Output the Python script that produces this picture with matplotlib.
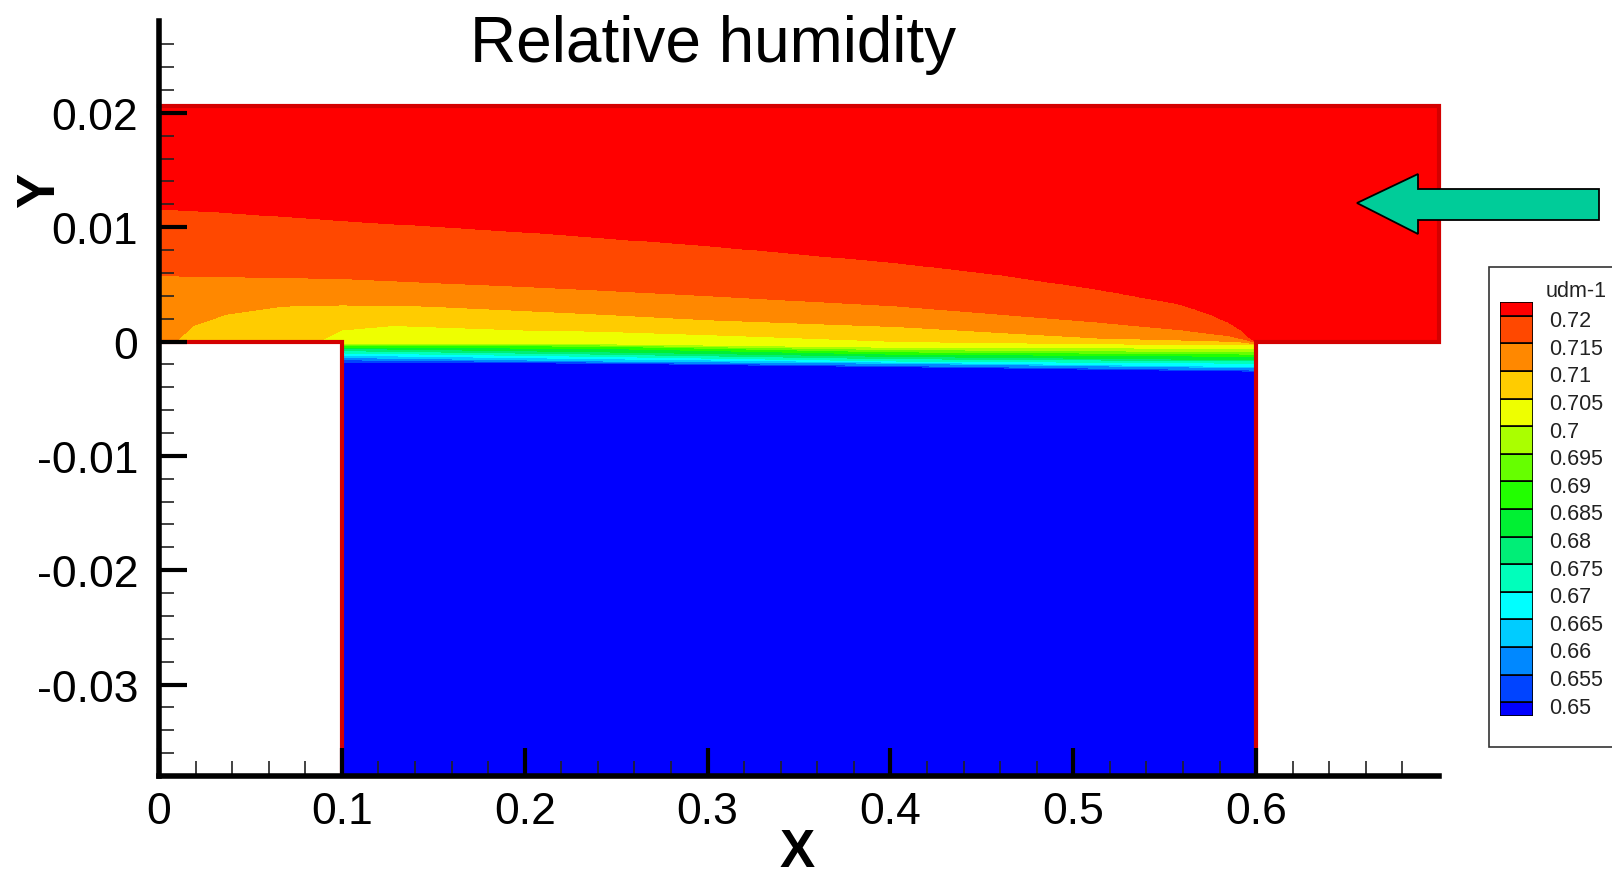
import numpy as np
import matplotlib
matplotlib.use("Agg")
import matplotlib.pyplot as plt
from matplotlib.patches import Polygon, Rectangle

plt.rcParams['font.family'] = ['Liberation Sans', 'DejaVu Sans']

W, H = 1612, 879

# contour levels of udm-1 and the band colours (below 0.65 ... above 0.72)
levels = [0.65, 0.655, 0.66, 0.665, 0.67, 0.675, 0.68, 0.685, 0.69, 0.695,
          0.70, 0.705, 0.71, 0.715, 0.72]
band_colors = ['#0000ff', '#0044ff', '#0088ff', '#00ccff', '#00ffff', '#00ffbb',
               '#00ee77', '#00f033', '#22ff00', '#66ff00', '#aaff00', '#eeff00',
               '#ffcc00', '#ff8800', '#ff4800', '#ff0000']
legend_labels = ['0.65', '0.655', '0.66', '0.665', '0.67', '0.675', '0.68', '0.685',
                 '0.69', '0.695', '0.7', '0.705', '0.71', '0.715', '0.72']

# traced contour lines (x, y)
x_072 = [0, 0.033, 0.1, 0.2, 0.3, 0.404, 0.458, 0.513, 0.558, 0.575, 0.585, 0.592, 0.596, 0.6]
y_072 = [0.0116, 0.01135, 0.0106, 0.0096, 0.0084, 0.0069, 0.0059, 0.0046, 0.0033, 0.0024,
         0.0017, 0.0010, 0.0004, 0.0]
x_0715 = [0, 0.1, 0.2, 0.24, 0.3, 0.404, 0.513, 0.56, 0.585, 0.596, 0.6]
y_0715 = [0.00576, 0.0055, 0.0048, 0.0045, 0.0040, 0.0031, 0.0017, 0.0010, 0.0005, 0.0001, -0.0001]
x_071 = [0, 0.008, 0.0114, 0.0187, 0.037, 0.068, 0.1, 0.146, 0.2, 0.24, 0.3, 0.404, 0.513, 0.567, 0.59, 0.6]
y_071 = [-0.001, -0.0002, 0.0003, 0.0014, 0.0024, 0.0031, 0.0032, 0.0031, 0.0027, 0.0024,
         0.0019, 0.0013, 0.0003, 0.0001, 0.0, -0.0002]
x_0705 = [0, 0.08, 0.0915, 0.1, 0.128, 0.2, 0.24, 0.3, 0.404, 0.513, 0.6]
y_0705 = [-0.002, -0.0005, 0.0003, 0.001, 0.0014, 0.001, 0.0009, 0.0006, 0.0, -0.0002, -0.0003]

# thin layer at the top of the cavity
x_cav = [0.1, 0.24, 0.4, 0.6]
y_070 = [-0.0002, -0.0002, -0.0005, -0.0006]
y_0695 = [-0.0003, -0.0003, -0.0007, -0.0009]
y_069 = [-0.00035, -0.0004, -0.0009, -0.0011]
y_0685 = [-0.0005, -0.0006, -0.0011, -0.0013]
y_068 = [-0.0006, -0.0009, -0.0013, -0.0016]
y_0675 = [-0.0008, -0.0011, -0.0015, -0.0017]
y_067 = [-0.001, -0.0013, -0.0017, -0.0019]
y_0665 = [-0.0012, -0.0015, -0.0018, -0.0022]
y_066 = [-0.0014, -0.0017, -0.0019, -0.0023]
y_0655 = [-0.0016, -0.0018, -0.0021, -0.0025]
y_065 = [-0.0018, -0.0019, -0.0022, -0.0026]

# geometry
x_end, y_top, y_bot = 0.7, 0.0206, -0.038
cav_left, cav_right = 0.1, 0.6

traces = [(x_cav, y_065), (x_cav, y_0655), (x_cav, y_066), (x_cav, y_0665),
          (x_cav, y_067), (x_cav, y_0675), (x_cav, y_068), (x_cav, y_0685),
          (x_cav, y_069), (x_cav, y_0695), (x_cav, y_070),
          (x_0705, y_0705), (x_071, y_071), (x_0715, y_0715), (x_072, y_072)]


def field(xg, yg):
    p = np.array([np.interp(xg, xs, ys) for xs, ys in traces])
    for k in range(len(levels) - 2, -1, -1):
        p[k] = np.minimum(p[k], p[k + 1] - 1e-7)
    z = np.empty((len(yg), len(xg)))
    for j in range(len(xg)):
        z[:, j] = np.interp(yg, p[:, j], levels, left=0.60, right=0.80)
    return z


fig = plt.figure(figsize=(W / 100, H / 100), dpi=100)
ax = fig.add_axes([159 / W, (H - 777) / H, 1280 / W, 754.6 / H])

bounds = [0.60] + levels + [0.80]

xc = np.linspace(cav_left, cav_right, 1001)
yc = np.concatenate([np.linspace(y_bot, -0.005, 20), np.linspace(-0.005, 0.0, 500)[1:]])
ax.contourf(xc, yc, field(xc, yc), levels=bounds, colors=band_colors, antialiased=False)

xg = np.linspace(0, x_end, 1401)
yg = np.linspace(0, y_top, 500)
ax.contourf(xg, yg, field(xg, yg), levels=bounds, colors=band_colors, antialiased=False)

# domain outline
ox = [0, x_end, x_end, cav_right, cav_right, cav_left, cav_left, 0]
oy = [y_top, y_top, 0, 0, y_bot, y_bot, 0, 0]
ax.plot(ox, oy, color='#d40000', lw=3, solid_joinstyle='miter', zorder=2, clip_on=False)

ax.set_xlim(0, x_end)
ax.set_ylim(y_bot, 0.028)
ax.set_axisbelow(False)
for s in ['top', 'right']:
    ax.spines[s].set_visible(False)
for s in ['left', 'bottom']:
    ax.spines[s].set_linewidth(4)
    ax.spines[s].set_zorder(5)

ax.set_xticks([0, 0.1, 0.2, 0.3, 0.4, 0.5, 0.6])
ax.set_xticklabels(['0', '0.1', '0.2', '0.3', '0.4', '0.5', '0.6'])
ax.set_xticks(np.arange(0.02, 0.69, 0.02), minor=True)
ax.set_yticks([-0.03, -0.02, -0.01, 0, 0.01, 0.02])
ax.set_yticklabels(['-0.03', '-0.02', '-0.01', '0', '0.01', '0.02'])
ax.set_yticks(np.arange(-0.036, 0.0265, 0.002), minor=True)
ax.tick_params(which='major', direction='in', length=20, width=3, labelsize=32,
               color='black')
ax.tick_params(axis='x', which='major', pad=11)
ax.tick_params(axis='y', which='major', pad=15)
ax.tick_params(which='minor', direction='in', length=11, width=1.2, color='#222222')

fig.text(713 / W, 1 - 62 / H, 'Relative humidity', fontsize=46, ha='center', va='baseline')
fig.text(797 / W, 1 / H, 'X', fontsize=38, fontweight='bold', ha='center', va='bottom')
fig.text(40 / W, 1 - 190 / H, 'Y', fontsize=38, fontweight='bold', rotation=90,
         ha='center', va='center')

# inflow arrow
arrow_px = [(1357, 204), (1418, 175), (1418, 190), (1599, 190),
            (1599, 221), (1418, 221), (1418, 235)]
fig.patches.append(Polygon([(px / W, 1 - py / H) for px, py in arrow_px], closed=True,
                           facecolor='#00cc99', edgecolor='black', lw=1.3,
                           transform=fig.transFigure, zorder=3))

# legend
fig.patches.append(Rectangle((1489 / W, 1 - 748 / H), 200 / W, 480 / H, facecolor='white',
                             edgecolor='#333333', lw=1.2, transform=fig.transFigure,
                             zorder=-1))
lax = fig.add_axes([1500 / W, (H - 717) / H, 33 / W, 414 / H])
lax.set_zorder(2)
lax.set_xlim(0, 1)
lax.set_ylim(0.6475, 0.7225)
lax.axis('off')
bottoms = [0.6475] + levels
tops = levels + [0.7225]
lax.bar(0.5, np.subtract(tops, bottoms), bottom=bottoms, width=1, color=band_colors,
        edgecolor='black', lw=1.2)
for v, lab in zip(levels, legend_labels):
    lax.text(1.5, v - 0.0009, lab, fontsize=15.5, ha='left', va='center', clip_on=False,
             color='#222222')
lax.text(1.38, 0.7246, 'udm-1', fontsize=15.5, ha='left', va='center', clip_on=False,
         color='#222222')

fig.savefig('out.png', dpi=100)
